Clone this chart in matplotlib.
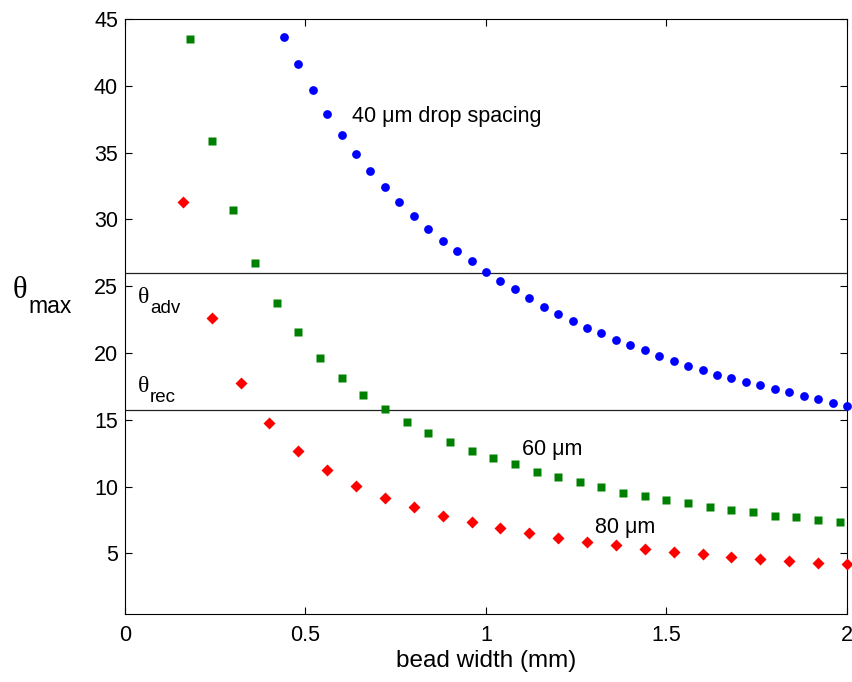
import numpy as np
import matplotlib
matplotlib.use('Agg')
import matplotlib.pyplot as plt

plt.rcParams['font.family'] = ['Liberation Sans', 'DejaVu Sans']
plt.rcParams['axes.linewidth'] = 0.8

# bead width (mm) and theta_max (deg) for each drop spacing
x_40 = [0.44, 0.48, 0.52, 0.56, 0.60, 0.64, 0.68, 0.72, 0.76, 0.80,
        0.84, 0.88, 0.92, 0.96, 1.00, 1.04, 1.08, 1.12, 1.16, 1.20,
        1.24, 1.28, 1.32, 1.36, 1.40, 1.44, 1.48, 1.52, 1.56, 1.60,
        1.64, 1.68, 1.72, 1.76, 1.80, 1.84, 1.88, 1.92, 1.96, 2.00]
y_40 = [43.67, 41.60, 39.65, 37.90, 36.35, 34.90, 33.60, 32.45, 31.30, 30.29,
        29.31, 28.41, 27.64, 26.87, 26.07, 25.42, 24.77, 24.12, 23.45, 22.93,
        22.42, 21.90, 21.50, 20.97, 20.57, 20.20, 19.80, 19.42, 19.03, 18.75,
        18.38, 18.13, 17.83, 17.58, 17.30, 17.05, 16.80, 16.53, 16.25, 16.00]

x_60 = [0.18, 0.24, 0.30, 0.36, 0.42, 0.48, 0.54, 0.60, 0.66, 0.72, 0.78,
        0.84, 0.90, 0.96, 1.02, 1.08, 1.14, 1.20, 1.26, 1.32, 1.38, 1.44,
        1.50, 1.56, 1.62, 1.68, 1.74, 1.80, 1.86, 1.92, 1.98]
y_60 = [43.47, 35.88, 30.69, 26.77, 23.77, 21.55, 19.60, 18.15, 16.85, 15.83,
        14.86, 13.98, 13.33, 12.68, 12.18, 11.66, 11.11, 10.71, 10.34, 9.94,
        9.54, 9.29, 9.01, 8.76, 8.49, 8.24, 8.11, 7.84, 7.72, 7.47, 7.34]

x_80 = [0.16, 0.24, 0.32, 0.40, 0.48, 0.56, 0.64, 0.72, 0.80, 0.88, 0.96,
        1.04, 1.12, 1.20, 1.28, 1.36, 1.44, 1.52, 1.60, 1.68, 1.76, 1.84,
        1.92, 2.00]
y_80 = [31.31, 22.60, 17.78, 14.76, 12.68, 11.24, 10.06, 9.14, 8.49, 7.84,
        7.34, 6.92, 6.52, 6.14, 5.87, 5.62, 5.37, 5.12, 4.97, 4.72, 4.59,
        4.44, 4.32, 4.19]

theta_adv = 26.0
theta_rec = 15.7

x_ticks = [0, 0.5, 1, 1.5, 2]
x_ticklabels = ['0', '0.5', '1', '1.5', '2']
y_ticks = [5, 10, 15, 20, 25, 30, 35, 40, 45]


def theta_label(ax, x, y, sub, size, sub_size, dx, dy, transform):
    ax.text(x, y, '\u03b8', fontsize=size, family='Liberation Serif',
            ha='left', va='baseline', transform=transform)
    ax.annotate(sub, xy=(x, y), xycoords=transform, xytext=(dx, dy),
                textcoords='offset points', fontsize=sub_size,
                ha='left', va='baseline', annotation_clip=False)


fig = plt.figure(figsize=(8.52, 6.82), dpi=100)
ax = fig.add_axes([0.1467, 0.0993, 0.8474, 0.8729])

ax.axhline(theta_adv, color='#222222', lw=0.9, zorder=1)
ax.axhline(theta_rec, color='#222222', lw=0.9, zorder=1)

ax.plot(x_40, y_40, 'o', color='#0000ff', ms=6.3, mec='none', zorder=3,
        clip_on=False)
ax.plot(x_60, y_60, 's', color='#008000', ms=5.3, mec='none', zorder=3,
        clip_on=False)
ax.plot(x_80, y_80, 'D', color='#ff0000', ms=6.6, mec='none', zorder=3,
        clip_on=False)

ax.set_xlim(0, 2)
ax.set_ylim(0.45, 45)
ax.set_xticks(x_ticks)
ax.set_xticklabels(x_ticklabels)
ax.set_yticks(y_ticks)
ax.tick_params(direction='in', length=5, width=0.8, labelsize=15.5,
               top=True, right=True)
ax.tick_params(axis='x', pad=7.5)
ax.tick_params(axis='y', pad=5)

ax.set_xlabel('bead width (mm)', fontsize=17.5, labelpad=3)

ax.text(0.628, 37.3, '40 \u03bcm drop spacing', fontsize=15.5,
        va='baseline', ha='left')
ax.text(1.099, 12.36, '60 \u03bcm', fontsize=15.5, va='baseline', ha='left')
ax.text(1.302, 6.54, '80 \u03bcm', fontsize=15.5, va='baseline', ha='left')

theta_label(ax, 0.036, 23.73, 'adv', 17, 13.5, 8.6, -7.2, ax.transData)
theta_label(ax, 0.036, 17.07, 'rec', 17, 13.5, 8.6, -7.2, ax.transData)
theta_label(ax, 0.0153, 0.563, 'max', 22, 16.5, 10.8, -10.8,
            fig.transFigure)

fig.savefig('out.png', dpi=100)
